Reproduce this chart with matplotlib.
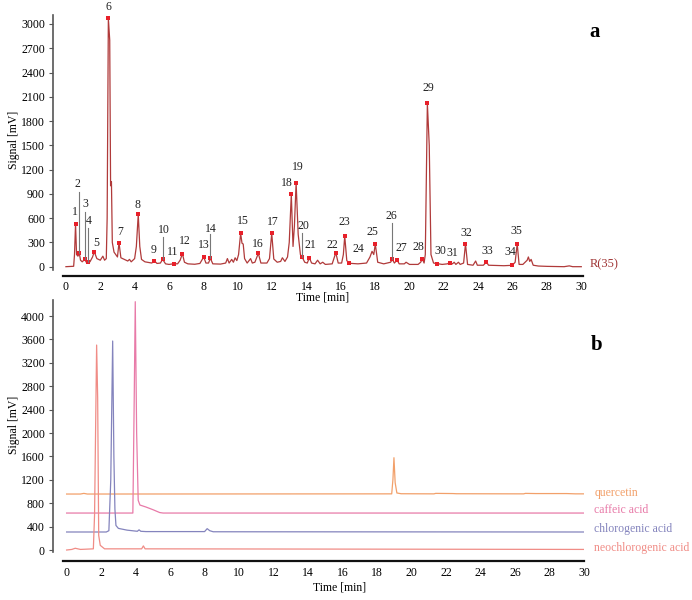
import matplotlib
matplotlib.use("Agg")
import matplotlib.pyplot as plt

plt.rcParams['font.family'] = ['Liberation Serif', 'DejaVu Serif']

# ---------------- Panel a data: sample chromatogram R(35) ----------------
trace_a_time = [0.0, 0.45, 0.5, 0.56, 0.62, 0.7, 0.78, 0.85, 0.95, 1.09, 1.2, 1.3, 1.4, 1.55, 1.65,
                1.8, 2.0, 2.15, 2.25, 2.35, 2.4, 2.47, 2.55, 2.6, 2.65, 2.7, 2.8, 2.9, 3.0, 3.09,
                3.2, 3.4, 3.6, 3.7, 3.8, 4.0, 4.1, 4.21, 4.3, 4.4, 4.6, 5.0, 5.14, 5.3, 5.5, 5.63,
                5.8, 6.0, 6.31, 6.5, 6.65, 6.78, 6.9, 7.1, 7.5, 7.8, 8.02, 8.15, 8.3, 8.41, 8.55,
                9.0, 9.3, 9.4, 9.5, 9.65, 9.75, 9.85, 9.95, 10.05, 10.17, 10.25, 10.32, 10.4,
                10.55, 10.75, 10.85, 11.0, 11.2, 11.35, 11.7, 11.85, 11.98, 12.1, 12.3, 12.5,
                12.6, 12.75, 12.9, 13.0, 13.12, 13.22, 13.3, 13.4, 13.52, 13.65, 13.76, 13.9,
                14.05, 14.17, 14.3, 14.5, 14.65, 14.8, 14.95, 15.1, 15.5, 15.6, 15.71, 15.85,
                16.05, 16.15, 16.23, 16.35, 16.5, 17.0, 17.5, 17.7, 17.82, 17.92, 18.01, 18.15,
                18.5, 18.9, 19.0, 19.12, 19.28, 19.4, 19.7, 19.8, 20.0, 20.5, 20.65, 20.75,
                20.85, 20.92, 21.04, 21.15, 21.25, 21.4, 21.63, 21.9, 22.2, 22.35, 22.5, 22.6,
                22.7, 22.85, 22.95, 23.15, 23.26, 23.38, 23.7, 23.85, 23.95, 24.3, 24.48, 24.6,
                25.5, 25.98, 26.15, 26.27, 26.38, 26.6, 26.85, 26.92, 27.0, 27.08, 27.2, 27.5,
                28.0, 29.0, 29.3, 29.5, 30.0]
trace_a_signal = [0, 5, 150, 528, 150, 130, 165, 80, 60, 91, 50, 52, 60, 120, 185,
                  100, 80, 130, 80, 100, 600, 3070, 2800, 1000, 1050, 300, 180, 150, 120, 297,
                  110, 90, 70, 90, 60, 100, 250, 647, 250, 90, 60, 45, 74, 40, 45, 91,
                  35, 28, 37, 35, 80, 161, 55, 35, 30, 40, 120, 45, 45, 104, 35,
                  32, 45, 100, 45, 90, 55, 110, 75, 150, 413, 290, 280, 100,
                  45, 100, 45, 55, 165, 45, 45, 100, 413, 95, 55, 65,
                  110, 65, 120, 300, 895, 250, 500, 1038, 400, 150, 116, 55,
                  45, 111, 45, 35, 80, 35, 55, 28, 35, 100, 173, 45,
                  45, 150, 379, 75, 42, 35, 45, 120, 190, 150, 280, 55,
                  35, 55, 91, 45, 83, 35, 35, 55, 28, 28, 55, 95,
                  45, 150, 2020, 1500, 150, 45, 37, 28, 35, 50, 35, 55,
                  28, 55, 28, 45, 284, 28, 18, 70, 18, 18, 58, 18,
                  12, 17, 55, 284, 28, 28, 80, 120, 65, 90, 18, 8,
                  4, 0, 10, 0, 0]

peak_ids = [str(i) for i in range(1, 36)]
peak_time = [0.56, 0.78, 1.09, 1.30, 1.65, 2.47, 3.09, 4.21, 5.14, 5.63, 6.31, 6.78, 8.02, 8.41,
             10.17, 11.20, 11.98, 13.12, 13.40, 13.76, 14.17, 15.71, 16.23, 16.50, 18.01, 19.00,
             19.28, 20.75, 21.04, 21.63, 22.35, 23.26, 24.48, 25.98, 26.27]
peak_signal = [528, 165, 91, 52, 185, 3070, 297, 647, 74, 91, 37, 161, 120, 104,
               413, 165, 413, 895, 1038, 116, 111, 173, 379, 42, 280, 91,
               83, 95, 2020, 37, 50, 284, 58, 17, 284]

# label layout (time, signal of label centre) and leader lines
label_time = [0.51, 0.68, 1.12, 1.34, 1.79, 2.47, 3.18, 4.17, 5.12, 5.69, 6.20, 6.93, 8.04, 8.41,
              10.29, 11.16, 12.04, 12.85, 13.49, 13.84, 14.25, 15.51, 16.21, 17.00, 17.84, 18.95,
              19.51, 20.52, 21.12, 21.78, 22.48, 23.28, 24.54, 25.84, 26.25]
label_signal = [672, 1018, 775, 569, 289, 3206, 429, 763, 206, 450, 182, 322, 268, 470,
                565, 281, 556, 1030, 1232, 500, 268, 272, 556, 223, 429, 630,
                227, 243, 2205, 198, 169, 416, 198, 186, 441]
leader_ids = ['2', '3', '4', '10', '14', '20', '26']
leader_top = [920, 680, 480, 363, 400, 420, 536]

# ---------------- Panel b data: standards ----------------
std_names = ['quercetin', 'caffeic acid', 'chlorogenic acid', 'neochlorogenic acid']
std_colors = ['#f2a06a', '#e87aa8', '#8484bd', '#f08c86']

neo_time = [0.0, 0.3, 0.5, 0.8, 1.55, 1.62, 1.74, 1.8, 1.86, 1.95, 2.2, 4.35, 4.45, 4.55, 30.0]
neo_signal = [0, 10, 30, 10, 20, 600, 3504, 2600, 250, 80, 20, 20, 70, 20, 10]

chl_time = [0.0, 2.3, 2.45, 2.56, 2.67, 2.74, 2.8, 2.86, 3.0, 3.5, 4.1, 4.2, 4.3, 4.6, 8.0,
            8.15, 8.3, 8.5, 30.0]
chl_signal = [308, 308, 330, 1200, 3573, 1600, 700, 420, 370, 340, 320, 345, 320, 315, 315,
              365, 330, 312, 308]

caf_time = [0.0, 3.84, 3.86, 3.92, 3.98, 4.06, 4.15, 4.25, 4.6, 5.0, 5.4, 5.6, 30.0]
caf_signal = [632, 632, 1100, 2600, 4245, 2000, 850, 769, 735, 690, 640, 632, 632]

que_time = [0.0, 0.8, 1.0, 1.2, 18.85, 18.92, 18.98, 19.05, 19.15, 19.4, 21.3, 21.4, 22.4,
            22.6, 26.5, 26.6, 27.2, 29.0, 29.5, 30.0]
que_signal = [957, 957, 968, 957, 960, 1200, 1578, 1150, 975, 962, 960, 968, 965,
              962, 960, 968, 965, 965, 960, 960]

std_times = [que_time, caf_time, chl_time, neo_time]
std_signals = [que_signal, caf_signal, chl_signal, neo_signal]
std_label_y = [975, 680, 360, 35]

W, H = 692, 600
fig = plt.figure(figsize=(W / 100, H / 100), dpi=100)

def style_axes(ax, yticks, xoff_pts):
    for s in ['top', 'right']:
        ax.spines[s].set_visible(False)
    ax.spines['left'].set_position(('outward', 7))
    ax.spines['bottom'].set_position(('outward', xoff_pts))
    ax.spines['left'].set_color('#555555')
    ax.spines['left'].set_linewidth(1.2)
    ax.spines['bottom'].set_color('#111111')
    ax.spines['bottom'].set_linewidth(1.6)
    ax.set_xticks(range(0, 31, 2))
    ax.set_yticks(yticks)
    ax.tick_params(axis='y', direction='out', length=3, width=0.8, color='#555555',
                   labelsize=8.5, pad=3)
    ax.tick_params(axis='x', direction='out', length=0, labelsize=8.5, pad=4)
    ax.patch.set_alpha(0)

# Panel a
axa = fig.add_axes([63 / W, 1 - 270 / H, 520 / W, 255 / H])
axa.set_xlim(-0.17, 30.1)
axa.set_ylim(-41, 3111)
style_axes(axa, range(0, 3001, 300), 4)
axa.plot(trace_a_time, trace_a_signal, color='#b03a3a', lw=0.9)
axa.plot(peak_time, peak_signal, 's', color='#e8202a', ms=2.6, mew=0)
for pid, lt, ls in zip(peak_ids, label_time, label_signal):
    axa.text(lt, ls, pid, ha='center', va='center', fontsize=8.5, color='#222222')
for pid, top in zip(leader_ids, leader_top):
    i = peak_ids.index(pid)
    axa.plot([peak_time[i], peak_time[i]], [peak_signal[i], top], color='#777777', lw=0.8)
axa.text(30.5, 35, 'R(35)', ha='left', va='center', fontsize=9, color='#a03535')

# Panel b
axb = fig.add_axes([63 / W, 1 - 552 / H, 521 / W, 252 / H])
axb.set_xlim(-0.21, 30.0)
axb.set_ylim(-34, 4274)
style_axes(axb, range(0, 4001, 400), 6.5)
for t, s, c in zip(std_times, std_signals, std_colors):
    axb.plot(t, s, color=c, lw=0.9)
for name, c, y in zip(std_names, std_colors, std_label_y):
    axb.text(30.6, y, name, ha='left', va='center', fontsize=8.5, color=c)

# Labels
fig.text(14 / W, 1 - 140 / H, 'Signal [mV]', rotation=90, ha='center', va='center', fontsize=8.5)
fig.text(14 / W, 1 - 425 / H, 'Signal [mV]', rotation=90, ha='center', va='center', fontsize=8.5)
fig.text(323 / W, 1 - 298 / H, 'Time [min]', ha='center', va='center', fontsize=8.5)
fig.text(340 / W, 1 - 588 / H, 'Time [min]', ha='center', va='center', fontsize=8.5)
fig.text(595 / W, 1 - 32 / H, 'a', ha='center', va='center', fontsize=15, fontweight='bold')
fig.text(597 / W, 1 - 345 / H, 'b', ha='center', va='center', fontsize=15, fontweight='bold')

fig.savefig('out.png', dpi=100)
